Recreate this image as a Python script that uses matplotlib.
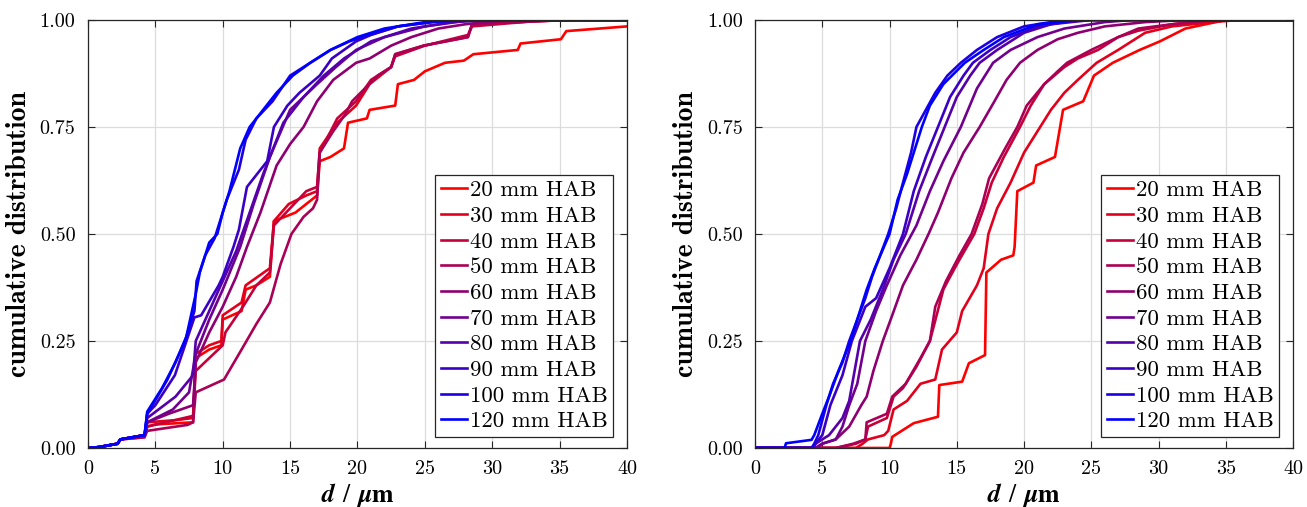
import numpy as np
import matplotlib
matplotlib.use("Agg")
import matplotlib.pyplot as plt

# ───────────────────────────── data

labels = ["20 mm HAB", "30 mm HAB", "40 mm HAB", "50 mm HAB", "60 mm HAB",
          "70 mm HAB", "80 mm HAB", "90 mm HAB", "100 mm HAB", "120 mm HAB"]

# left panel: (d, F) pairs per height
left_20 = [(0, 0), (0.8, 0.002), (2.2, 0.01), (2.4, 0.02), (4.2, 0.025), (4.4, 0.05), (5.0, 0.055),
           (7.8, 0.06), (8.0, 0.21), (9.0, 0.23), (9.9, 0.24), (10.0, 0.30), (11.4, 0.32), (11.7, 0.37),
           (12.5, 0.38), (13.5, 0.40), (13.8, 0.53), (15.4, 0.55), (17.0, 0.59), (17.2, 0.67), (18.0, 0.68),
           (19.0, 0.70), (19.3, 0.76), (20.7, 0.77), (20.9, 0.79), (22.8, 0.80), (23.0, 0.85), (24.2, 0.86),
           (25.0, 0.88), (26.5, 0.90), (27.9, 0.905), (28.6, 0.92), (31.9, 0.93), (32.1, 0.945),
           (35.1, 0.955), (35.5, 0.974), (40, 0.985)]
left_30 = [(0, 0), (0.8, 0.002), (2.2, 0.01), (2.4, 0.02), (4.2, 0.03), (4.4, 0.06), (6.5, 0.065),
           (7.8, 0.07), (8.0, 0.22), (9.0, 0.24), (9.9, 0.25), (10.0, 0.31), (11.4, 0.34), (11.7, 0.38),
           (13.5, 0.42), (13.8, 0.53), (14.9, 0.57), (16.2, 0.59), (17.0, 0.60), (17.2, 0.70), (18.5, 0.76),
           (19.9, 0.80), (20.9, 0.85), (22.5, 0.89), (22.8, 0.92), (24.9, 0.94), (28.2, 0.96), (28.5, 0.99),
           (34, 0.998), (36, 1), (40, 1)]
left_40 = [(0, 0), (0.8, 0.002), (2.2, 0.01), (2.4, 0.02), (4.2, 0.03), (4.4, 0.05), (7.8, 0.075),
           (8.0, 0.18), (10.0, 0.24), (10.2, 0.27), (11.5, 0.33), (12.5, 0.38), (13.5, 0.41), (13.8, 0.52),
           (15.0, 0.56), (16.2, 0.60), (17.0, 0.61), (17.2, 0.69), (18.5, 0.77), (19.9, 0.81), (21, 0.86),
           (22.5, 0.89), (22.8, 0.915), (25, 0.94), (28.2, 0.965), (28.5, 0.985), (33, 0.997), (36, 1), (40, 1)]
left_50 = [(0, 0), (0.8, 0.002), (2.2, 0.01), (2.4, 0.02), (4.2, 0.025), (4.4, 0.04), (7.4, 0.054),
           (7.8, 0.06), (8.0, 0.13), (10.1, 0.16), (11.4, 0.23), (12.5, 0.29), (13.5, 0.34), (14.3, 0.43),
           (15.1, 0.50), (16.0, 0.54), (16.7, 0.56), (17.0, 0.58), (17.2, 0.69), (18.2, 0.74), (19.1, 0.78),
           (19.6, 0.81), (21.5, 0.87), (22.5, 0.89), (22.8, 0.92), (24.9, 0.94), (28.2, 0.96), (28.5, 0.99),
           (34, 0.998), (36, 1), (40, 1)]
left_60 = [(0, 0), (0.8, 0.002), (2.2, 0.01), (2.4, 0.02), (4.2, 0.03), (4.4, 0.06), (6.0, 0.08),
           (7.8, 0.10), (8.0, 0.20), (9.0, 0.27), (10.0, 0.33), (11.0, 0.40), (11.8, 0.47), (12.8, 0.55),
           (14.0, 0.66), (15.0, 0.71), (16.0, 0.75), (17.0, 0.81), (18.2, 0.86), (19.9, 0.90), (20.9, 0.91),
           (22.5, 0.94), (24, 0.96), (26, 0.98), (28, 0.99), (31, 1), (40, 1)]
left_70 = [(0, 0), (0.8, 0.002), (2.2, 0.01), (2.4, 0.02), (4.2, 0.03), (4.4, 0.06), (6.3, 0.09),
           (7.5, 0.13), (8.0, 0.22), (9.0, 0.30), (10.0, 0.37), (11.3, 0.47), (12.3, 0.57), (13.5, 0.68),
           (15.0, 0.79), (17.0, 0.85), (18.4, 0.89), (19.9, 0.93), (22, 0.96), (25, 0.985), (28, 0.998),
           (30, 1), (40, 1)]
left_80 = [(0, 0), (0.8, 0.002), (2.2, 0.01), (2.4, 0.02), (4.2, 0.03), (4.4, 0.07), (6.5, 0.12),
           (7.8, 0.17), (8.0, 0.25), (9.0, 0.32), (10.0, 0.39), (11.0, 0.46), (12.0, 0.55), (13.0, 0.64),
           (14.0, 0.72), (14.5, 0.76), (16.0, 0.82), (17.5, 0.87), (19, 0.91), (21, 0.95), (24, 0.98),
           (27, 0.995), (30, 1), (40, 1)]
left_90 = [(0, 0), (0.8, 0.002), (2.2, 0.01), (2.4, 0.02), (4.2, 0.03), (4.4, 0.08), (5.0, 0.10),
           (6.45, 0.17), (7.9, 0.305), (8.4, 0.31), (9.7, 0.38), (10.0, 0.40), (10.8, 0.47), (11.2, 0.51),
           (11.8, 0.61), (13.3, 0.67), (13.8, 0.75), (14.8, 0.80), (15.7, 0.83), (17.2, 0.87), (18.1, 0.91),
           (19.9, 0.95), (21, 0.965), (23, 0.985), (26, 0.997), (29, 1), (40, 1)]
left_100 = [(0, 0), (0.8, 0.002), (2.2, 0.01), (2.4, 0.02), (4.2, 0.03), (4.4, 0.08), (4.6, 0.09),
            (5.9, 0.16), (7.2, 0.25), (7.9, 0.32), (8.06, 0.39), (8.7, 0.45), (9.4, 0.49), (9.8, 0.53),
            (10.3, 0.58), (11.2, 0.65), (11.7, 0.72), (12.5, 0.77), (13.7, 0.81), (15, 0.87), (16, 0.89),
            (18, 0.93), (19.4, 0.95), (20.9, 0.965), (23, 0.985), (26, 0.997), (29, 1), (40, 1)]
left_120 = [(0, 0), (0.8, 0.002), (2.2, 0.01), (2.4, 0.02), (4.2, 0.03), (4.4, 0.085), (5.5, 0.14),
            (6.5, 0.20), (7.3, 0.26), (8.0, 0.36), (8.3, 0.41), (9.0, 0.48), (9.6, 0.50), (10.0, 0.55),
            (10.5, 0.60), (11.3, 0.70), (12.0, 0.75), (13.0, 0.79), (14.0, 0.83), (15.2, 0.87), (16.5, 0.90),
            (18, 0.93), (20, 0.96), (22, 0.98), (25, 0.995), (28, 1), (40, 1)]

# right panel
right_20 = [(0, 0), (10.0, 0), (10.1, 0.01), (10.2, 0.026), (11.8, 0.058), (13.6, 0.073), (13.7, 0.147),
            (15.4, 0.155), (15.9, 0.198), (17.1, 0.217), (17.2, 0.41), (18.3, 0.44), (19.2, 0.45),
            (19.3, 0.47), (19.5, 0.60), (20.7, 0.62), (20.9, 0.66), (22.3, 0.68), (22.9, 0.79), (24.4, 0.81),
            (25.2, 0.87), (26.6, 0.90), (28.6, 0.93), (30.1, 0.95), (32, 0.98), (35, 1), (40, 1)]
right_30 = [(0, 0), (7.5, 0), (8.0, 0.01), (8.4, 0.02), (9.6, 0.03), (9.9, 0.04), (10.3, 0.09),
            (11.3, 0.11), (12.3, 0.15), (13.4, 0.16), (13.9, 0.23), (15.0, 0.27), (15.4, 0.32), (16.5, 0.38),
            (17.0, 0.42), (17.35, 0.50), (18.0, 0.56), (19.0, 0.62), (20.0, 0.69), (21.2, 0.75), (22.0, 0.79),
            (23.0, 0.83), (24.0, 0.86), (25.4, 0.90), (27, 0.93), (28, 0.95), (29, 0.97), (31, 0.985),
            (34, 0.995), (36, 1), (40, 1)]
right_40 = [(0, 0), (6, 0), (7.5, 0.01), (8.2, 0.02), (8.4, 0.05), (9.8, 0.07), (10.3, 0.12), (11.0, 0.14),
            (12.0, 0.19), (13.0, 0.25), (13.5, 0.31), (14.0, 0.37), (14.5, 0.40), (15.2, 0.44), (16.3, 0.50),
            (17.0, 0.56), (17.6, 0.62), (18.5, 0.68), (19.7, 0.75), (20.5, 0.80), (21.5, 0.85), (23.0, 0.89),
            (24.0, 0.91), (25.5, 0.93), (27, 0.96), (28.5, 0.975), (31, 0.99), (34, 1), (40, 1)]
right_50 = [(0, 0), (6, 0), (7.3, 0.01), (8.2, 0.02), (8.3, 0.06), (9.8, 0.08), (10.2, 0.12), (11.2, 0.15),
            (12.3, 0.21), (13.0, 0.25), (13.4, 0.33), (14.2, 0.39), (15.2, 0.45), (16.1, 0.50), (16.9, 0.57),
            (17.4, 0.63), (18.6, 0.70), (19.5, 0.75), (20.2, 0.80), (21.5, 0.85), (22.5, 0.88), (23.2, 0.90),
            (25, 0.93), (27, 0.96), (28.5, 0.98), (31, 0.99), (34, 1), (40, 1)]
right_60 = [(0, 0), (4.5, 0), (5.0, 0.01), (6.0, 0.02), (7.0, 0.05), (7.9, 0.10), (8.3, 0.12), (8.8, 0.18),
            (9.5, 0.25), (10.2, 0.31), (11.0, 0.38), (12.0, 0.44), (12.9, 0.50), (13.6, 0.55), (14.6, 0.63),
            (15.5, 0.69), (16.7, 0.75), (17.8, 0.81), (18.7, 0.86), (19.7, 0.90), (21, 0.93), (22.5, 0.955),
            (24, 0.97), (26, 0.985), (29, 0.995), (32, 1), (40, 1)]
right_70 = [(0, 0), (4.5, 0), (5.0, 0.01), (6.0, 0.02), (6.5, 0.05), (7.0, 0.10), (7.6, 0.15), (8.2, 0.25),
            (9.0, 0.32), (9.8, 0.38), (10.8, 0.45), (12.0, 0.52), (13.0, 0.60), (14.0, 0.67), (15.3, 0.75),
            (16.5, 0.84), (17.7, 0.90), (19, 0.93), (21, 0.96), (23, 0.98), (26, 0.995), (28, 1), (40, 1)]
right_80 = [(0, 0), (4.3, 0), (4.5, 0.01), (5.5, 0.03), (6.5, 0.07), (7.0, 0.11), (7.8, 0.25), (8.6, 0.30),
            (9.5, 0.37), (10.3, 0.44), (11.2, 0.50), (12.2, 0.60), (13.2, 0.68), (14.1, 0.75), (15.0, 0.82),
            (16.0, 0.87), (16.7, 0.90), (18, 0.93), (20, 0.97), (22, 0.99), (25, 1), (40, 1)]
right_90 = [(0, 0), (4.3, 0), (4.5, 0.01), (5.0, 0.03), (5.6, 0.10), (6.5, 0.17), (7.2, 0.25), (8.2, 0.33),
            (9.0, 0.35), (10.0, 0.42), (11.0, 0.50), (11.8, 0.60), (12.7, 0.68), (13.6, 0.75), (14.5, 0.82),
            (15.5, 0.87), (16.2, 0.90), (17.5, 0.93), (19, 0.96), (21, 0.985), (24, 1), (40, 1)]
right_100 = [(0, 0), (4.2, 0), (4.4, 0.01), (4.7, 0.03), (5.3, 0.10), (5.8, 0.15), (6.5, 0.20), (7.0, 0.25),
             (7.6, 0.30), (8.2, 0.35), (8.7, 0.40), (9.3, 0.45), (9.9, 0.50), (10.5, 0.56), (11.0, 0.62),
             (11.6, 0.69), (12.0, 0.75), (12.7, 0.79), (13.4, 0.83), (14.3, 0.87), (15.3, 0.90), (16.5, 0.93),
             (18, 0.96), (20, 0.985), (22, 0.995), (24, 1), (40, 1)]
right_120 = [(0, 0), (2.2, 0), (2.3, 0.011), (4.2, 0.019), (4.4, 0.03), (5.0, 0.08), (5.5, 0.12), (6.2, 0.18),
             (7.1, 0.25), (7.7, 0.31), (8.3, 0.37), (8.9, 0.42), (10.0, 0.50), (10.6, 0.58), (11.3, 0.64),
             (12.4, 0.75), (13.0, 0.80), (14.0, 0.85), (15.6, 0.90), (17, 0.93), (18.5, 0.96), (21, 0.99),
             (24, 1), (40, 1)]

left_curves = [left_20, left_30, left_40, left_50, left_60, left_70, left_80, left_90, left_100, left_120]
right_curves = [right_20, right_30, right_40, right_50, right_60, right_70, right_80, right_90, right_100, right_120]

x_ticks = [0, 5, 10, 15, 20, 25, 30, 35, 40]
y_ticks = [0.0, 0.25, 0.5, 0.75, 1.0]

# ───────────────────────────── style

plt.rcParams["font.family"] = ["cmr10", "DejaVu Serif"]
plt.rcParams["axes.formatter.use_mathtext"] = True


def draw_panel(ax, curves):
    n = len(curves)
    for i, (curve, lab) in enumerate(zip(curves, labels)):
        t = i / (n - 1)
        d, F = zip(*curve)
        ax.plot(d, F, color=(1 - t, 0, t), lw=1.9, label=lab)
    ax.set_xlim(0, 40)
    ax.set_ylim(0, 1)
    ax.set_xticks(x_ticks)
    ax.set_xticklabels([str(v) for v in x_ticks])
    ax.set_yticks(y_ticks)
    ax.set_yticklabels([f"{v:.2f}" for v in y_ticks])
    ax.tick_params(direction="in", top=True, right=True, labelsize=14.5,
                   length=5, width=0.8, colors="#262626", pad=9)
    ax.tick_params(labelcolor="black")
    ax.grid(True, color="#dcdcdc", lw=0.9)
    ax.set_axisbelow(True)
    for sp in ax.spines.values():
        sp.set_edgecolor("#262626")
        sp.set_linewidth(0.9)
    ax.set_xlabel(r"$\mathbfit{d}\;\,/\;\,\mathbfit{\mu}\mathbf{m}$", fontsize=18.5,
                  math_fontfamily="stix")
    ax.xaxis.set_label_coords(0.5, -0.078)
    ax.set_ylabel("cumulative distribution", fontsize=20, family="cmb10")
    ax.yaxis.set_label_coords(-0.104, 0.5)
    leg = ax.legend(loc="lower right", bbox_to_anchor=(0.974, 0.026), fontsize=16.4,
                    labelspacing=0.25, handlelength=1.15, handletextpad=0.12,
                    borderpad=0.25, borderaxespad=0.0, fancybox=False, framealpha=1)
    leg.get_frame().set_edgecolor("#262626")
    leg.get_frame().set_linewidth(0.9)


fig = plt.figure(figsize=(13.07, 5.07), dpi=100)
ax1 = fig.add_axes([0.0673, 0.1164, 0.4124, 0.8442])
ax2 = fig.add_axes([0.5777, 0.1164, 0.4116, 0.8442])
draw_panel(ax1, left_curves)
draw_panel(ax2, right_curves)

fig.savefig("out.png", dpi=100, facecolor="white")
plt.close(fig)
